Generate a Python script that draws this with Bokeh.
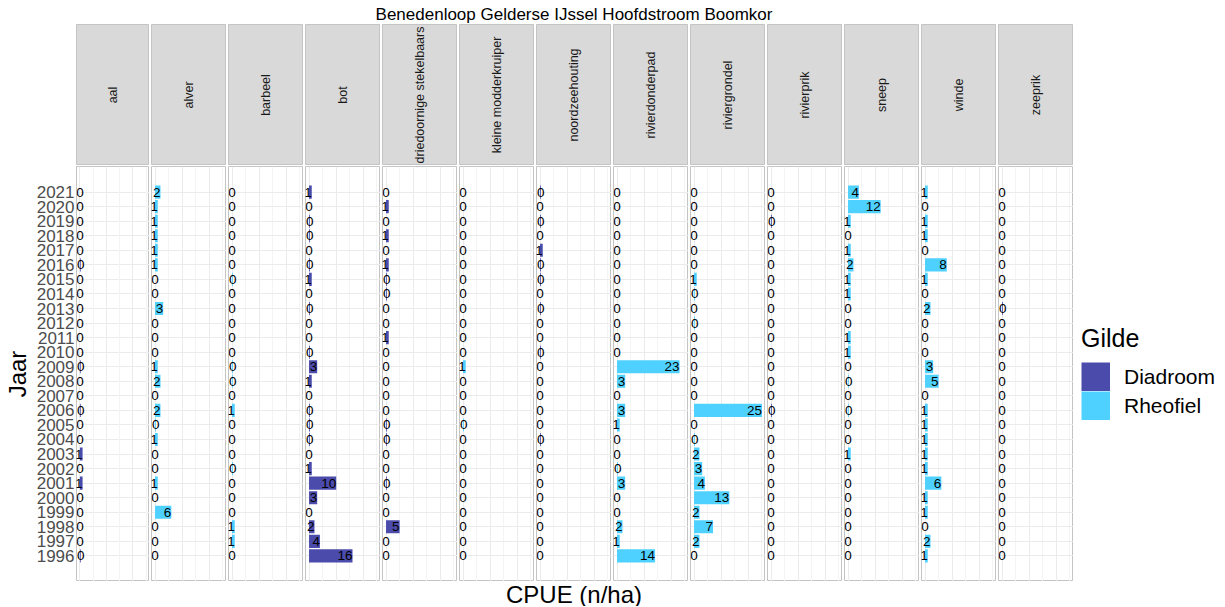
import numpy as np
from bokeh.plotting import figure
from bokeh.models import (Range1d, FactorRange, Grid, FixedTicker, CategoricalTicker,
                          ColumnDataSource, Legend, LegendItem)
from bokeh.layouts import row, column
from bokeh.embed import file_html
from bokeh.resources import INLINE
from bokeh.core.properties import value

FONT = "Liberation Sans"

title_text = "Benedenloop Gelderse IJssel Hoofdstroom Boomkor"
x_label = "CPUE (n/ha)"
y_label = "Jaar"
legend_title = "Gilde"

years = ["2021", "2020", "2019", "2018", "2017", "2016", "2015", "2014", "2013",
         "2012", "2011", "2010", "2009", "2008", "2007", "2006", "2005", "2004",
         "2003", "2002", "2001", "2000", "1999", "1998", "1997", "1996"]

species = ["aal", "alver", "barbeel", "bot", "driedoornige stekelbaars",
           "kleine modderkruiper", "noordzeehouting", "rivierdonderpad",
           "riviergrondel", "rivierprik", "sneep", "winde", "zeeprik"]
gilde = ["Diadroom", "Rheofiel", "Rheofiel", "Diadroom", "Diadroom",
         "Rheofiel", "Diadroom", "Rheofiel", "Rheofiel", "Diadroom",
         "Rheofiel", "Rheofiel", "Diadroom"]

# CPUE per species, years 2021 -> 1996
aal = [0, 0, 0, 0, 0, 0.3, 0, 0, 0, 0, 0, 0, 0.3, 0, 0, 0.3, 0, 0, 1, 0, 1, 0, 0, 0, 0, 0.3]
alver = [2, 1, 1, 1, 1, 1, 0, 0, 3, 0, 0, 0, 1, 2, 0, 2, 0.3, 1, 0, 0, 1, 0, 6, 0, 0, 0]
barbeel = [0, 0, 0, 0, 0, 0, 0.3, 0, 0, 0, 0, 0, 0.3, 0.3, 0, 1, 0, 0, 0, 0.3, 0, 0, 0, 1, 1, 0]
bot = [1, 0, 0.3, 0.3, 0, 0.3, 1, 0, 0.3, 0, 0, 0.3, 3, 1, 0, 0.3, 0.3, 0.3, 0, 1, 10, 3, 0, 2, 4, 16]
driedoornige_stekelbaars = [0, 1, 0, 1, 0, 1, 0.3, 0.3, 0, 0, 1, 0, 0, 0, 0, 0, 0.3, 0.3, 0, 0, 0.3, 0, 0, 5, 0, 0]
kleine_modderkruiper = [0, 0, 0, 0, 0, 0, 0, 0, 0, 0, 0, 0, 1, 0, 0, 0, 0.3, 0, 0, 0, 0, 0, 0, 0, 0, 0]
noordzeehouting = [0.3, 0, 0.3, 0, 1, 0.3, 0.3, 0, 0.3, 0, 0, 0.3, 0, 0, 0, 0, 0, 0.3, 0, 0, 0, 0, 0, 0, 0, 0]
rivierdonderpad = [0, 0, 0, 0, 0, 0, 0, 0, 0, 0, 0, 0, 23, 3, 0, 3, 1, 0, 0, 0.3, 3, 0, 0, 2, 1, 14]
riviergrondel = [0, 0, 0, 0, 0, 0, 1, 0.3, 0, 0.3, 0, 0, 0, 0, 0, 25, 0, 0.3, 2, 3, 4, 13, 2, 7, 2, 0]
rivierprik = [0, 0, 0.3, 0, 0, 0, 0, 0, 0, 0, 0, 0, 0, 0, 0, 0.3, 0, 0, 0, 0, 0, 0, 0, 0, 0, 0]
sneep = [4, 12, 1, 0, 1, 2, 1, 1, 0, 0, 1, 1, 0, 0.3, 0, 0.3, 0, 0, 1, 0, 0, 0, 0, 0, 0, 0]
winde = [1, 0, 1, 1, 0, 8, 1, 0, 2, 0, 0, 0, 3, 5, 0, 1, 1, 1, 1, 1, 6, 1, 1, 0, 2, 1]
zeeprik = [0, 0, 0, 0, 0, 0, 0, 0, 0.3, 0, 0, 0, 0, 0, 0, 0, 0, 0, 0, 0, 0, 0, 0, 0, 0, 0]

series = [aal, alver, barbeel, bot, driedoornige_stekelbaars, kleine_modderkruiper,
          noordzeehouting, rivierdonderpad, riviergrondel, rivierprik, sneep, winde, zeeprik]

colors = {"Diadroom": "#4B4BAB", "Rheofiel": "#4FD1FF"}

PANEL_W = 75
AXIS_W = 74
TITLE_H = 24
STRIP_H = 141
PANEL_H = 415
XLAB_H = 25
VGAP = 1
HGAP = 2
BORDER = "#C4C4C4"
GRID = "#EBEBEB"

y_range = FactorRange(factors=list(reversed(years)), range_padding=1.26,
                      range_padding_units="absolute")


def blank(w, h, **kw):
    opts = dict(width=w, height=h, x_range=Range1d(0, 1), y_range=Range1d(0, 1),
                x_axis_type=None, y_axis_type=None, toolbar_location=None,
                output_backend="svg", min_border=0, title=None,
                outline_line_color=None, border_fill_color="white")
    opts.update(kw)
    return figure(**opts)


def make_column(name, vals, g, first):
    w = PANEL_W + (AXIS_W if first else 0)
    mbl = AXIS_W if first else 0

    s = blank(w, STRIP_H, min_border_left=mbl, background_fill_color="#D9D9D9",
              outline_line_color=BORDER)
    s.text(x=[0.5], y=[0.5], text=[name], angle=np.pi / 2, text_align="center",
           text_baseline="middle", text_font=value(FONT), text_font_size="12.5px",
           text_color="#1A1A1A")

    p = figure(width=w, height=PANEL_H, x_range=Range1d(-1.3, 26.3), y_range=y_range,
               x_axis_type=None, y_axis_type=("auto" if first else None),
               y_axis_location=("left" if first else None), title=None,
               toolbar_location=None, output_backend="svg", min_border=0,
               min_border_left=mbl, background_fill_color="white",
               border_fill_color="white", outline_line_color=BORDER)
    xg = Grid(dimension=0, ticker=FixedTicker(ticks=[0, 10, 20], minor_ticks=[5, 15, 25]),
              grid_line_color=GRID, grid_line_width=1,
              minor_grid_line_color="#F4F4F4", minor_grid_line_width=1)
    p.add_layout(xg)
    if first:
        yax = p.yaxis[0]
        yax.axis_line_color = None
        yax.major_tick_line_color = None
        yax.minor_tick_line_color = None
        yax.major_tick_out = 0
        yax.major_tick_in = 0
        yax.minor_tick_out = 0
        yax.major_label_standoff = 2
        yax.major_label_text_font = FONT
        yax.major_label_text_font_size = "17px"
        yax.major_label_text_color = "#4D4D4D"
        yax.axis_label = y_label
        yax.axis_label_standoff = 3
        yax.axis_label_text_font = FONT
        yax.axis_label_text_font_size = "24px"
        yax.axis_label_text_font_style = "normal"
        yax.axis_label_text_color = "black"
        p.ygrid.grid_line_color = GRID
    else:
        p.add_layout(Grid(dimension=1, ticker=CategoricalTicker(), grid_line_color=GRID))

    src = ColumnDataSource(dict(year=years, cpue=vals))
    p.hbar(y="year", left=0, right="cpue", height=0.9, source=src,
           fill_color=colors[g], line_color=None)

    labels = [str(int(round(v))) for v in vals]
    z = [i for i, t in enumerate(labels) if t == "0"]
    nz = [i for i, t in enumerate(labels) if t != "0"]
    for idx, align in ((z, "center"), (nz, "right")):
        if not idx:
            continue
        ts = ColumnDataSource(dict(year=[years[i] for i in idx],
                                   cpue=[vals[i] for i in idx],
                                   label=[labels[i] for i in idx]))
        p.text(x="cpue", y="year", text="label", source=ts, text_align=align,
               text_baseline="middle", text_font=value(FONT), text_font_size="13.5px",
               text_color="black")
    return column([s, p], spacing=VGAP)


cols = [make_column(n, v, g, i == 0) for i, (n, v, g) in enumerate(zip(species, series, gilde))]

FULL_H = STRIP_H + VGAP + PANEL_H

# legend (square keys drawn as thick butt-capped line swatches)
lf = blank(148, FULL_H)
legend_renderers = []
for gname in ["Diadroom", "Rheofiel"]:
    r = lf.line(x=[0, 0], y=[0, 0], line_width=29, line_cap="butt",
                line_color=colors[gname])
    legend_renderers.append(LegendItem(label=gname, renderers=[r]))
leg = Legend(items=legend_renderers,
             title=legend_title, location=(6, 161), orientation="vertical",
             glyph_width=29, glyph_height=29, spacing=0, padding=0, margin=0,
             label_standoff=14, title_standoff=9, border_line_color=None,
             background_fill_alpha=0, label_text_font_size="21px",
             title_text_font_size="25px", label_text_font=FONT, title_text_font=FONT,
             title_text_font_style="normal", label_text_color="black",
             title_text_color="black")
lf.add_layout(leg)

main = row(cols + [lf], spacing=HGAP)

TOTAL_W = PANEL_W + AXIS_W + 12 * (HGAP + PANEL_W)

tf = blank(TOTAL_W, TITLE_H, min_border_left=AXIS_W)
tf.text(x=[0.5], y=[0.42], text=[title_text], text_align="center",
        text_baseline="middle", text_font=value(FONT), text_font_size="17px",
        text_color="black")

xf = blank(TOTAL_W, XLAB_H, min_border_left=AXIS_W)
xf.text(x=[0.5], y=[0.5], text=[x_label], text_align="center",
        text_baseline="middle", text_font=value(FONT), text_font_size="24px",
        text_color="black")

page = column([tf, main, xf], spacing=0)

open("out.html", "w").write(file_html(page, INLINE))
